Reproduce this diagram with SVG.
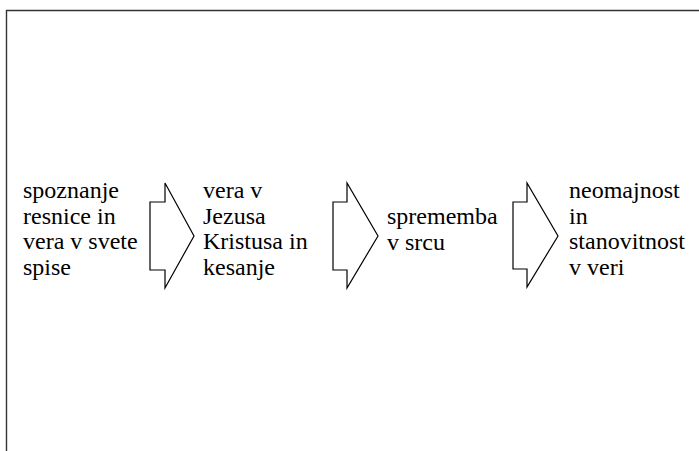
<svg xmlns="http://www.w3.org/2000/svg" width="699" height="451" viewBox="0 0 699 451">
<style>
text{font-family:'Liberation Serif','Times New Roman',serif;font-size:24px;fill:#000}
.arr{fill:#fff;stroke:#000;stroke-width:1.2;stroke-linejoin:miter}
.frame{fill:none;stroke:#333;stroke-width:1.4}
</style>
<rect width="699" height="451" fill="#fff"/>
<path class="frame" d="M6.5,460 V10.5 H710"/>
<g id="node1">
<text x="23" y="198">spoznanje</text>
<text x="23" y="223.5">resnice in</text>
<text x="23" y="249">vera v svete</text>
<text x="23" y="274.5">spise</text>
</g>
<g id="node2">
<text x="203" y="198">vera v</text>
<text x="203" y="223.5">Jezusa</text>
<text x="203" y="249">Kristusa in</text>
<text x="203" y="274.5">kesanje</text>
</g>
<g id="node3">
<text x="387" y="224">sprememba</text>
<text x="387" y="249.5">v srcu</text>
</g>
<g id="node4">
<text x="569" y="198">neomajnost</text>
<text x="569" y="223.5">in</text>
<text x="569" y="249">stanovitnost</text>
<text x="569" y="274.5">v veri</text>
</g>
<g id="connectors">
<polygon class="arr" points="150,202 165,202 165,183 194,236 165,288 165,270 150,270"/>
<polygon class="arr" points="333,202 347,202 347,183 378,236 347,288 347,270 333,270"/>
<polygon class="arr" points="513,202 527,202 527,183 558,236 527,287 527,269 513,269"/>
</g>
</svg>
